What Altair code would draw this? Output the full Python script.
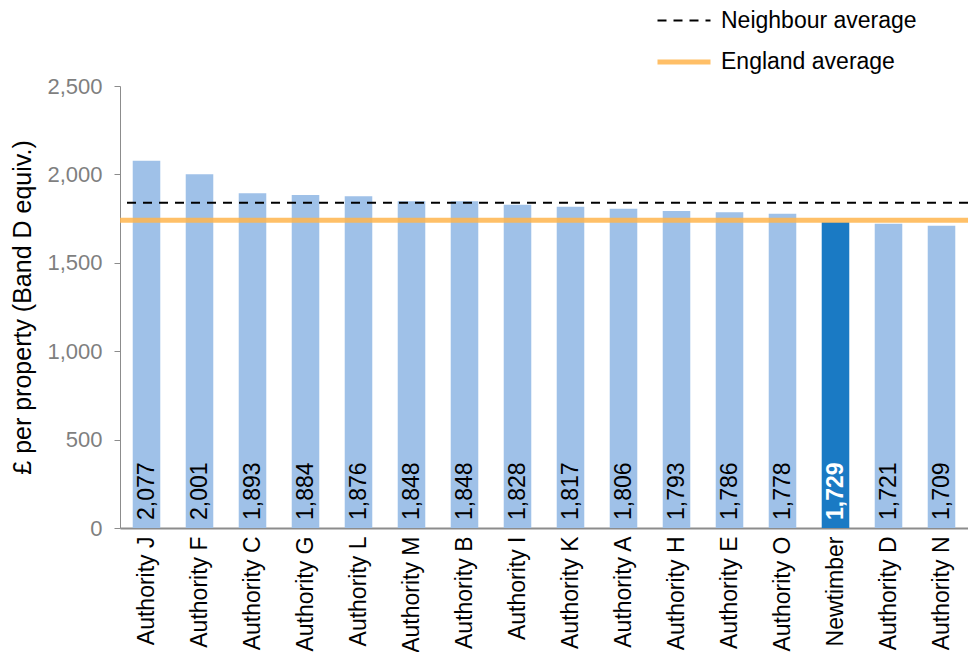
import altair as alt
import pandas as pd

authorities = ["Authority J", "Authority F", "Authority C", "Authority G", "Authority L",
               "Authority M", "Authority B", "Authority I", "Authority K", "Authority A",
               "Authority H", "Authority E", "Authority O", "Newtimber", "Authority D",
               "Authority N"]
values = [2077, 2001, 1893, 1884, 1876, 1848, 1848, 1828, 1817, 1806, 1793, 1786, 1778,
          1729, 1721, 1709]
highlight = "Newtimber"
avg_names = ["Neighbour average", "England average"]
avg_values = [1840, 1740]
y_ticks = [0, 500, 1000, 1500, 2000, 2500]

FONT = "Liberation Sans"

df = pd.DataFrame({"name": authorities, "value": values})
df["hl"] = df["name"] == highlight
avg = pd.DataFrame({"series": avg_names, "value": avg_values})

x = alt.X("name:N", sort=authorities, title=None,
          scale=alt.Scale(paddingInner=0.48, paddingOuter=0.24),
          axis=alt.Axis(labelAngle=-90, labelFontSize=23, labelColor="black", labelFont=FONT,
                        ticks=False, domainColor="#8c8c8c", domainWidth=2, labelPadding=8,
                        labelLimit=300))
y_scale = alt.Scale(domain=[0, 2500], nice=False)

bars = alt.Chart(df).mark_bar().encode(
    x=x,
    y=alt.Y("value:Q", scale=y_scale, title="£ per property (Band D equiv.)",
            axis=alt.Axis(values=y_ticks, format=",.0f",
                          grid=False, labelFontSize=22, labelColor="#7f7f7f", labelFont=FONT,
                          titleFont=FONT, titleFontSize=25, titleFontWeight="normal",
                          titleColor="black", domainColor="#8c8c8c", tickColor="#8c8c8c",
                          tickSize=6, labelPadding=12, titlePadding=11)),
    color=alt.Color("hl:N", scale=alt.Scale(domain=[False, True], range=["#9FC1E8", "#1A7AC4"]),
                    legend=None),
)

labels_normal = alt.Chart(df).transform_filter("!datum.hl").mark_text(
    angle=270, align="left", baseline="middle", dx=8, fontSize=23, font=FONT, color="black"
).encode(
    x=alt.X("name:N", sort=authorities),
    y=alt.datum(0),
    text=alt.Text("value:Q", format=",.0f"),
)
labels_hl = alt.Chart(df).transform_filter("datum.hl").mark_text(
    angle=270, align="left", baseline="middle", dx=8, fontSize=23, font=FONT, color="white",
    fontWeight="bold"
).encode(
    x=alt.X("name:N", sort=authorities),
    y=alt.datum(0),
    text=alt.Text("value:Q", format=",.0f"),
)

rules = alt.Chart(avg).mark_rule().encode(
    y=alt.Y("value:Q", scale=y_scale),
    stroke=alt.Stroke("series:N", title=None,
                      scale=alt.Scale(domain=avg_names, range=["black", "#FFB54D"]),
                      legend=alt.Legend(orient="none", legendX=535, legendY=-93,
                                        symbolType="stroke", symbolSize=2809,
                                        labelFontSize=23, labelFont=FONT, labelColor="black",
                                        labelOffset=8, rowPadding=-13, symbolOpacity=1,
                                        labelLimit=400)),
    strokeDash=alt.StrokeDash("series:N", title=None,
                              scale=alt.Scale(domain=avg_names, range=[[9, 7], [1, 0]])),
    strokeWidth=alt.StrokeWidth("series:N", title=None,
                                scale=alt.Scale(domain=avg_names, range=[2, 5])),
    opacity=alt.Opacity("series:N", title=None,
                        scale=alt.Scale(domain=avg_names, range=[1, 0.85])),
)

chart = alt.layer(bars, labels_normal, labels_hl, rules).properties(
    width=848, height=442,
    autosize=alt.AutoSizeParams(type="none"),
    padding={"left": 112, "top": 78, "right": 0, "bottom": 124},
).configure_view(stroke=None)

chart.save("out.html", embed_options={"renderer": "svg", "actions": False})
